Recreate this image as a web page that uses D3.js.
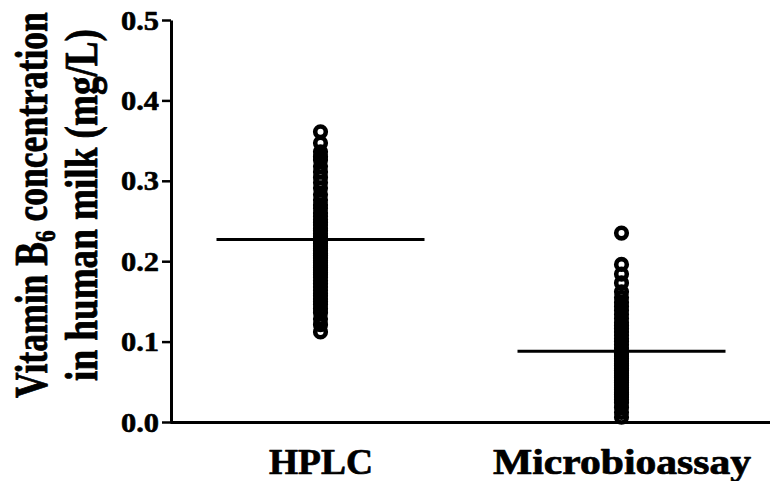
<!DOCTYPE html>
<html><head><meta charset="utf-8">
<script src="https://cdn.jsdelivr.net/npm/d3@7"></script>
<style>body{margin:0;background:#fff}svg{display:block}</style>
</head><body><svg id="c" width="770" height="481"></svg>
<script>
const categories = ["HPLC", "Microbioassay"];
const hplcValues = [0.361, 0.347, 0.336, 0.330, 0.326, 0.318, 0.311, 0.304, 0.298, 0.291, 0.283, 0.276, 0.270, 0.266, 0.260, 0.256,
  0.252, 0.248, 0.245, 0.241, 0.238, 0.234, 0.231, 0.228, 0.225, 0.222, 0.219, 0.216, 0.213, 0.210, 0.207, 0.204,
  0.201, 0.198, 0.195, 0.192, 0.189, 0.186, 0.183, 0.180, 0.176, 0.172, 0.168, 0.164, 0.160, 0.157, 0.153, 0.150,
  0.146, 0.141, 0.136, 0.128, 0.121, 0.112];
const microValues = [0.235, 0.196, 0.184, 0.173, 0.162, 0.155, 0.149, 0.144, 0.139, 0.134, 0.129, 0.124, 0.120, 0.116,
  0.112, 0.108, 0.104, 0.100, 0.096, 0.092, 0.088, 0.085, 0.082, 0.079, 0.076, 0.073, 0.070, 0.067, 0.064, 0.061,
  0.058, 0.055, 0.052, 0.049, 0.046, 0.043, 0.040, 0.037, 0.034, 0.031, 0.028, 0.024, 0.018, 0.012, 0.006];
const meanValues = [0.227, 0.088];
const yTicks = [0.0, 0.1, 0.2, 0.3, 0.4, 0.5];

const FONT = "'Liberation Serif', 'Times New Roman', serif";
const svg = d3.select("#c");
const y = d3.scaleLinear().domain([0, 0.5]).range([422, 20]);
const x = d3.scalePoint().domain(categories).range([170, 772]).padding(0.5);

function heavy(sel, w) {
  sel.attr("stroke", "#000").attr("stroke-width", w).attr("stroke-linejoin", "round");
}

// y axis
const ya = svg.append("g").attr("transform", "translate(171,0)")
  .call(d3.axisLeft(y).tickValues(yTicks).tickFormat(d3.format(".1f")).tickSize(9).tickSizeOuter(0).tickPadding(3));
ya.select(".domain").attr("stroke", "#000").attr("stroke-width", 3);
ya.selectAll(".tick line").attr("stroke", "#000").attr("stroke-width", 2.5);
ya.selectAll(".tick text").attr("font-family", FONT).attr("font-weight", "bold").attr("font-size", 27)
  .attr("fill", "#000").attr("textLength", 38).attr("lengthAdjust", "spacingAndGlyphs").attr("dy", "0.34em")
  .call(heavy, 0.6);

// x axis
const xa = svg.append("g").attr("transform", "translate(0,422)")
  .call(d3.axisBottom(x).tickSize(0).tickSizeOuter(0));
xa.select(".domain").attr("stroke", "#000").attr("stroke-width", 3);
xa.selectAll(".tick text").attr("font-family", FONT).attr("font-weight", "bold").attr("font-size", 35)
  .attr("fill", "#000").attr("y", 52).attr("dy", 0)
  .attr("textLength", d => d === "HPLC" ? 104 : 258).attr("lengthAdjust", "spacingAndGlyphs")
  .call(heavy, 0.7);

// data points
const series = [hplcValues, microValues];
series.forEach((vals, i) => {
  svg.append("g").selectAll("circle").data(vals).join("circle")
    .attr("cx", x(categories[i])).attr("cy", d => y(d)).attr("r", 5.3)
    .attr("fill", "none").attr("stroke", "#000").attr("stroke-width", 4.6);
});

// mean lines
svg.append("g").selectAll("line").data(meanValues).join("line")
  .attr("x1", (d, i) => x(categories[i]) - 104).attr("x2", (d, i) => x(categories[i]) + 104)
  .attr("y1", d => y(d)).attr("y2", d => y(d)).attr("stroke", "#000").attr("stroke-width", 3);

// y title (compressed along its baseline with a scale transform)
function fitTitle(sel, cx, cy, target) {
  const len = sel.node().getComputedTextLength();
  sel.attr("transform", `translate(${cx},${cy}) rotate(-90) scale(${target / len},1)`);
}
const t1 = svg.append("text")
  .attr("text-anchor", "middle").attr("font-family", FONT).attr("font-weight", "bold").attr("font-size", 46)
  .attr("fill", "#000").call(heavy, 0.8);
t1.append("tspan").text("Vitamin B");
t1.append("tspan").attr("font-size", 30).attr("dy", 8).text("6");
t1.append("tspan").attr("dy", -8).text(" concentration");
fitTitle(t1, 47, 205, 386);

const t2 = svg.append("text")
  .attr("text-anchor", "middle").attr("font-family", FONT).attr("font-weight", "bold").attr("font-size", 46)
  .attr("fill", "#000").call(heavy, 0.8)
  .text("in human milk (mg/L)");
fitTitle(t2, 97, 205, 352);
</script></body></html>
